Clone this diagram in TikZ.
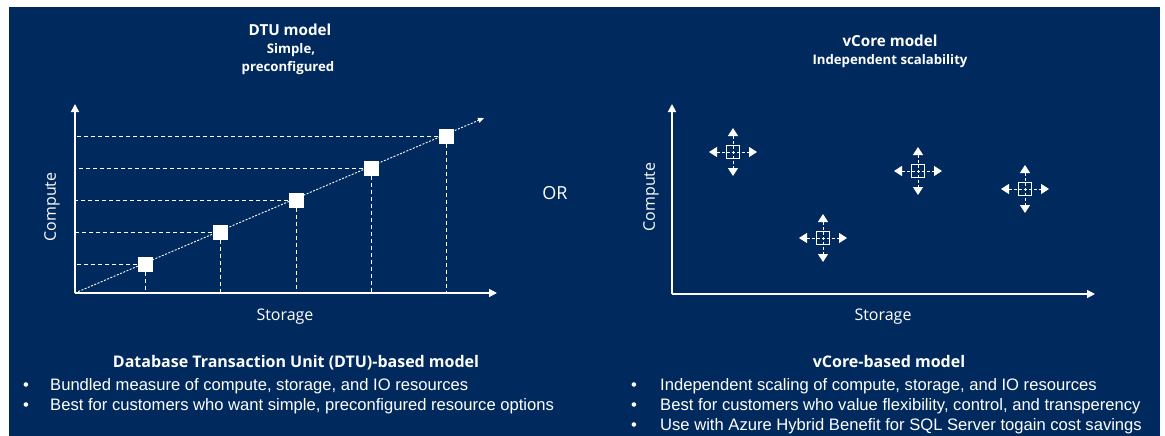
\documentclass[tikz,border=0pt]{standalone}
\usepackage{fontspec}
\setmainfont{Liberation Sans}
\setsansfont{Open Sans}
\usetikzlibrary{arrows.meta,positioning}
\definecolor{navy}{RGB}{0,42,94}
\begin{document}
\begin{tikzpicture}[x=1pt, y=-1pt,
  every node/.style={text=white, inner sep=0pt},
  title/.style={font=\sffamily\bfseries\fontsize{15.2}{18}\selectfont, anchor=base},
  subtitle/.style={font=\sffamily\bfseries\fontsize{13.2}{16}\selectfont, anchor=base},
  axislabel/.style={font=\sffamily\fontsize{16}{18}\selectfont},
  heading/.style={font=\sffamily\bfseries\fontsize{16}{18}\selectfont, anchor=base},
  bullet/.style={font=\fontsize{16.6}{18}\selectfont, anchor=base west},
  axis/.style={draw=white, line width=1.6pt, -{Triangle[length=8pt,width=8pt]}},
  guide/.style={draw=white, line width=1pt, dash pattern=on 4pt off 3pt},
  trend/.style={draw=white, line width=0.9pt, dash pattern=on 2pt off 1.5pt,
    -{Triangle[length=6pt,width=5pt]}},
  unit/.style={fill=white, minimum size=15pt},
  core/.style={draw=white, line width=1.4pt, minimum size=13pt},
  scalearrow/.style={draw=white, line width=1pt, dash pattern=on 3pt off 2pt,
    {Triangle[length=8pt,width=10pt]}-{Triangle[length=8pt,width=10pt]}}
]
  % Canvas
  \useasboundingbox (0,0) rectangle (1165,436);
  \fill[white] (0,0) rectangle (1165,436);
  \fill[navy] (9,7) rectangle (1160,436);

  % Titles
  \node[title] (dtutitle) at (290,36) {DTU model};
  \node[subtitle] (dtusub1) at (291,54) {Simple,};
  \node[subtitle] (dtusub2) at (288,71) {preconfigured};
  \node[title] (vctitle) at (890,47) {vCore model};
  \node[subtitle] (vcsub) at (890,65) {Independent scalability};
  \node[font=\sffamily\fontsize{18}{20}\selectfont, anchor=base] (or) at (555,199.5) {OR};

  % DTU chart: axes
  \coordinate (dtuo) at (75,293);
  \coordinate (dtuy) at (75,104);
  \coordinate (dtux) at (497,293);
  \draw[axis] (dtuo) -- (dtuy);
  \draw[axis] (dtuo) -- (dtux);
  \node[axislabel, rotate=90] (dtucompute) at (52,207) {Compute};
  \node[axislabel] (dtustorage) at (285,317) {Storage};

  % DTU chart: trend line and tiers
  \coordinate (trendend) at (484,118);
  \draw[trend] (dtuo) -- (trendend);
  \foreach \i/\x/\y in {1/145/264, 2/220/232, 3/296/200, 4/371/168, 5/446/136} {
    \node[unit] (s\i) at (\x,\y) {};
    \draw[guide] (s\i.west) -- (dtuo |- s\i);
    \draw[guide] (s\i.south) -- (dtuo -| s\i);
  }

  % vCore chart: axes
  \coordinate (vco) at (672,294);
  \coordinate (vcy) at (672,104);
  \coordinate (vcx) at (1095,294);
  \draw[axis] (vco) -- (vcy);
  \draw[axis] (vco) -- (vcx);
  \node[axislabel, rotate=90] (vccompute) at (651,197) {Compute};
  \node[axislabel] (vcstorage) at (883,317) {Storage};

  % vCore chart: independently scaled cores
  \foreach \i/\x/\y in {1/733/152, 2/823/238, 3/918/171, 4/1025/189} {
    \draw[scalearrow] (\x-24,\y) -- (\x+24,\y);
    \draw[scalearrow] (\x,\y-24) -- (\x,\y+24);
    \node[core] (c\i) at (\x,\y) {};
  }

  % DTU description
  \node[heading] (dtuhead) at (296,367) {Database Transaction Unit (DTU)-based model};
  \node[bullet] (dtub1) at (23,390) {\textbullet};
  \node[bullet] (dtut1) at (50,390) {Bundled measure of compute, storage, and IO resources};
  \node[bullet] (dtub2) at (23,410) {\textbullet};
  \node[bullet] (dtut2) at (50,410) {Best for customers who want simple, preconfigured resource options};

  % vCore description
  \node[heading] (vchead) at (889,367) {vCore-based model};
  \node[bullet] (vcb1) at (631,390) {\textbullet};
  \node[bullet] (vct1) at (660,390) {Independent scaling of compute, storage, and IO resources};
  \node[bullet] (vcb2) at (631,410) {\textbullet};
  \node[bullet] (vct2) at (660,410) {Best for customers who value flexibility, control, and transperency};
  \node[bullet] (vcb3) at (631,430) {\textbullet};
  \node[bullet] (vct3) at (660,430) {Use with Azure Hybrid Benefit for SQL Server togain cost savings};
\end{tikzpicture}
\end{document}
